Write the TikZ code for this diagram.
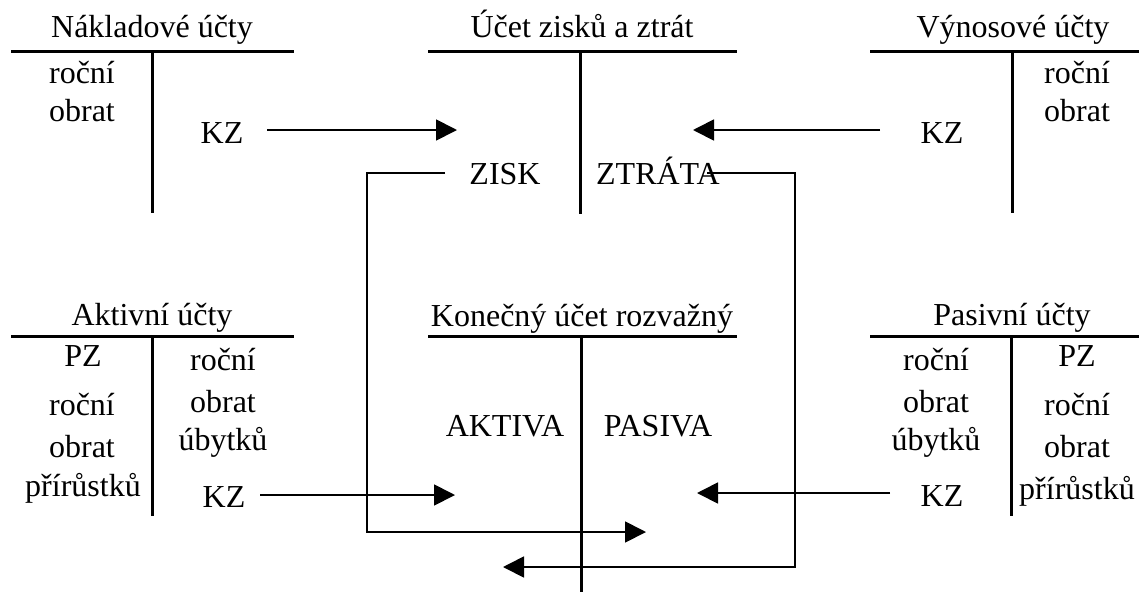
\documentclass[tikz,border=0pt]{standalone}
\usepackage{fontspec}
\setmainfont{Liberation Serif}
\usetikzlibrary{arrows.meta}
\tikzset{
  txt/.style={anchor=base, inner sep=0pt, font=\fontsize{32}{38}\selectfont},
  tline/.style={line width=3pt},
  conn/.style={line width=1.8pt},
  arr/.style={conn, -{Triangle[length=21pt,width=21pt]}},
}
\begin{document}
\begin{tikzpicture}[x=1pt,y=-1pt]
\useasboundingbox (0,0) rectangle (1139,592);
% ---- T accounts (top) ----
\draw[tline] (11,51) -- (294,51) (152,51) -- (152,213);
\draw[tline] (428,51) -- (737,51) (580,51) -- (580,214);
\draw[tline] (870,51) -- (1139,51) (1012,51) -- (1012,213);
% ---- T accounts (bottom) ----
\draw[tline] (11,336) -- (294,336) (152,336) -- (152,516);
\draw[tline] (428,336) -- (737,336) (581,336) -- (581,592);
\draw[tline] (870,336) -- (1139,336) (1011,336) -- (1011,516);
% ---- titles ----
\node[txt] (tn) at (152,37) {Nákladové účty};
\node[txt] (tz) at (582,37) {Účet zisků a ztrát};
\node[txt] (tv) at (1013,37) {Výnosové účty};
\node[txt] (ta) at (152,325) {Aktivní účty};
\node[txt] (tk) at (582,326) {Konečný účet rozvažný};
\node[txt] (tp) at (1012,325) {Pasivní účty};
% ---- Nakladove ----
\node[txt] (n1) at (82,83) {roční};
\node[txt] (n2) at (82,121) {obrat};
\node[txt] (kzn) at (222,143) {KZ};
% ---- Vynosove ----
\node[txt] (v1) at (1077,83) {roční};
\node[txt] (v2) at (1077,121) {obrat};
\node[txt] (kzv) at (942,143) {KZ};
% ---- Zisk/ztrata ----
\node[txt] (zisk) at (505,184) {ZISK};
\node[txt] (ztrata) at (658,184) {ZTRÁTA};
% ---- Aktivni ----
\node[txt] (a1) at (83,366) {PZ};
\node[txt] (a2) at (82,415) {roční};
\node[txt] (a3) at (82,457) {obrat};
\node[txt] (a4) at (83,496) {přírůstků};
\node[txt] (a5) at (223,370) {roční};
\node[txt] (a6) at (223,412) {obrat};
\node[txt] (a7) at (223,450) {úbytků};
\node[txt] (kza) at (224,507) {KZ};
% ---- Konecny ----
\node[txt] (akt) at (505,436) {AKTIVA};
\node[txt] (pas) at (658,436) {PASIVA};
% ---- Pasivni ----
\node[txt] (p1) at (936,370) {roční};
\node[txt] (p2) at (936,412) {obrat};
\node[txt] (p3) at (936,450) {úbytků};
\node[txt] (kzp) at (942,506) {KZ};
\node[txt] (p4) at (1077,366) {PZ};
\node[txt] (p5) at (1077,415) {roční};
\node[txt] (p6) at (1077,457) {obrat};
\node[txt] (p7) at (1077,499) {přírůstků};
% ---- connector end points ----
\coordinate (s1) at (267,130); \coordinate (e1) at (457,130);
\coordinate (s2) at (880,130); \coordinate (e2) at (693,130);
\coordinate (s3) at (260,495); \coordinate (e3) at (455,495);
\coordinate (s4) at (890,493); \coordinate (e4) at (697,493);
\coordinate (zs) at (445,173); \coordinate (ze) at (646,532);
\coordinate (ts) at (707,173); \coordinate (te) at (503,567);
% ---- connectors ----
\draw[arr] (s1) -- (e1);
\draw[arr] (s2) -- (e2);
\draw[arr] (s3) -- (e3);
\draw[arr] (s4) -- (e4);
\draw[arr] (zs) -- (367,173) -- (367,532) -- (ze);
\draw[arr] (ts) -- (795,173) -- (795,567) -- (te);
\end{tikzpicture}
\end{document}
